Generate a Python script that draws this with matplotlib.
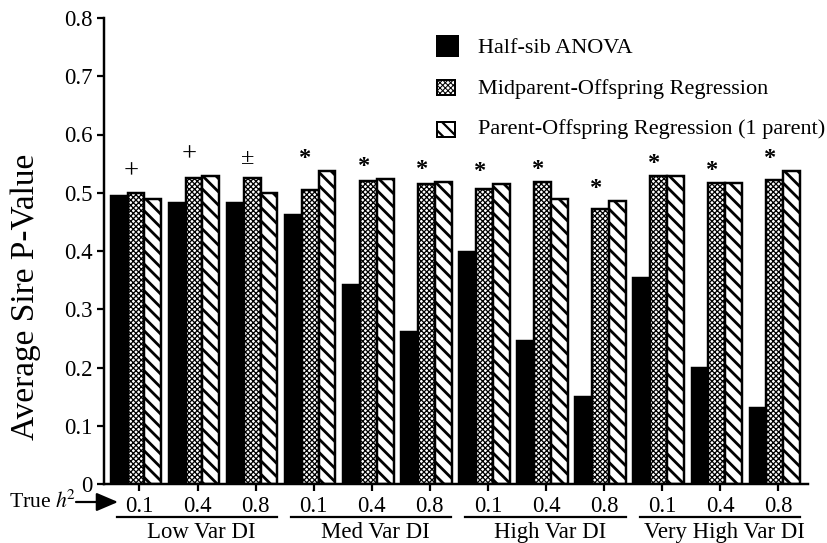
import matplotlib
matplotlib.use("Agg")
import matplotlib.pyplot as plt
import numpy as np
from matplotlib.patches import Rectangle
from matplotlib.transforms import blended_transform_factory

# ---- data -------------------------------------------------------------
categories = ["Low Var DI", "Med Var DI", "High Var DI", "Very High Var DI"]
heritabilities = ["0.1", "0.4", "0.8"]
series_names = ["Half-sib ANOVA",
                "Midparent-Offspring Regression",
                "Parent-Offspring Regression (1 parent)"]

half_sib = [0.495, 0.483, 0.482, 0.461, 0.342, 0.261,
            0.399, 0.245, 0.149, 0.353, 0.199, 0.131]
midparent = [0.499, 0.525, 0.526, 0.505, 0.521, 0.515,
             0.507, 0.519, 0.472, 0.529, 0.517, 0.522]
one_parent = [0.490, 0.529, 0.500, 0.538, 0.524, 0.519,
              0.515, 0.490, 0.485, 0.529, 0.517, 0.538]
significance = ["+", "+", "\u00b1", "*", "*", "*",
                "*", "*", "*", "*", "*", "*"]

y_ticks = [0.0, 0.1, 0.2, 0.3, 0.4, 0.5, 0.6, 0.7, 0.8]
y_tick_labels = ["0", "0.1", "0.2", "0.3", "0.4", "0.5", "0.6", "0.7", "0.8"]

# ---- style ------------------------------------------------------------
W, H, DPI = 827, 543, 80
plt.rcParams["font.family"] = ["Liberation Serif", "DejaVu Serif"]
plt.rcParams["mathtext.fontset"] = "stix"
plt.rcParams["hatch.color"] = "black"

FS = 20
TICK_FS = 20.5
fig = plt.figure(figsize=(W / DPI, H / DPI), dpi=DPI)
fig.patch.set_facecolor("white")


def fx(px):
    return px / W


def fy(py):
    return 1 - py / H


ax = fig.add_axes([fx(104), fy(484), fx(808) - fx(104), fy(18) - fy(484)])

n_groups = len(half_sib)
x = np.arange(n_groups)
bw = 0.29

styles = [
    dict(color="black", hatch=None, hlw=1.0),
    dict(color="white", hatch="xxxxx", hlw=1.15),
    dict(color="white", hatch="\\\\", hlw=2.5),
]
series = [half_sib, midparent, one_parent]

for k, (vals, st) in enumerate(zip(series, styles)):
    bars = ax.bar(x + (k - 1) * bw, vals, width=bw, color=st["color"],
                  edgecolor="black", linewidth=2.2, hatch=st["hatch"],
                  zorder=2)
    for b in bars:
        try:
            b.set_hatch_linewidth(st["hlw"])
        except AttributeError:
            pass

ax.set_xlim(-0.55, n_groups - 1 + 0.57)
ax.set_ylim(0, 0.8)

for s in ["top", "right"]:
    ax.spines[s].set_visible(False)
for s in ["left", "bottom"]:
    ax.spines[s].set_linewidth(2.2)

ax.set_yticks(y_ticks)
ax.set_yticklabels(y_tick_labels, fontsize=TICK_FS)
ax.set_xticks(x + 0.06)
ax.set_xticklabels(heritabilities * len(categories), fontsize=TICK_FS)
ax.tick_params(axis="both", direction="out", length=6.5, width=2.0)
ax.tick_params(axis="y", pad=4)
ax.tick_params(axis="x", pad=4)

# significance symbols above each group
sym_size = {"+": 24, "\u00b1": 22, "*": 22}
sym_drop = {"+": 6.0, "\u00b1": 7.5, "*": 13.0}
for i, sym in enumerate(significance):
    top = max(half_sib[i], midparent[i], one_parent[i])
    weight = "bold" if sym == "*" else "normal"
    ax.annotate(sym, (x[i] - 0.08, top + 0.037), xytext=(0, -sym_drop[sym]),
                textcoords="offset points", ha="center", va="baseline",
                fontsize=sym_size[sym], fontweight=weight,
                annotation_clip=False)

# category underlines and names
trans = blended_transform_factory(ax.transData, ax.transAxes)
for c, name in enumerate(categories):
    first = x[3 * c]
    last = x[3 * c + 2]
    x0, x1 = first - 0.33, last + 0.43
    ax.plot([x0, x1], [-0.071, -0.071], color="black", lw=2.0,
            transform=trans, clip_on=False)
    ax.text((x0 + x1) / 2 + 0.08, -0.082, name, transform=trans,
            ha="center", va="top", fontsize=FS + 0.5)

# "True h^2" pointer
fig.text(fx(9), fy(508), r"True $h^{\!2}$", fontsize=19.5, ha="left",
         va="baseline")
ax.annotate("", xy=(118, H - 502), xytext=(76, H - 502),
            xycoords="figure pixels", textcoords="figure pixels",
            arrowprops=dict(arrowstyle="-|>,head_length=0.75,head_width=0.32",
                            lw=2.0, color="black",
                            mutation_scale=22, shrinkA=0, shrinkB=0))

# y-axis title
fig.text(fx(26), fy(297), "Average Sire P-Value", rotation=90,
         ha="center", va="center", fontsize=30)

# legend
legend_boxes = [(437, 36, 21, 20), (437, 80, 18, 15), (437, 122, 18, 15)]
legend_baselines = [53, 94, 134]
for st, name, (bx, by, bwid, bht), base in zip(styles, series_names,
                                               legend_boxes, legend_baselines):
    r = Rectangle((fx(bx), fy(by + bht)), bwid / W, bht / H,
                  transform=fig.transFigure, facecolor=st["color"],
                  edgecolor="black", linewidth=1.8, hatch=st["hatch"])
    try:
        r.set_hatch_linewidth(st["hlw"] * 0.8)
    except AttributeError:
        pass
    fig.add_artist(r)
    fig.text(fx(478), fy(base), name, fontsize=FS, ha="left", va="baseline")

fig.savefig("out.png", dpi=DPI, facecolor="white")
